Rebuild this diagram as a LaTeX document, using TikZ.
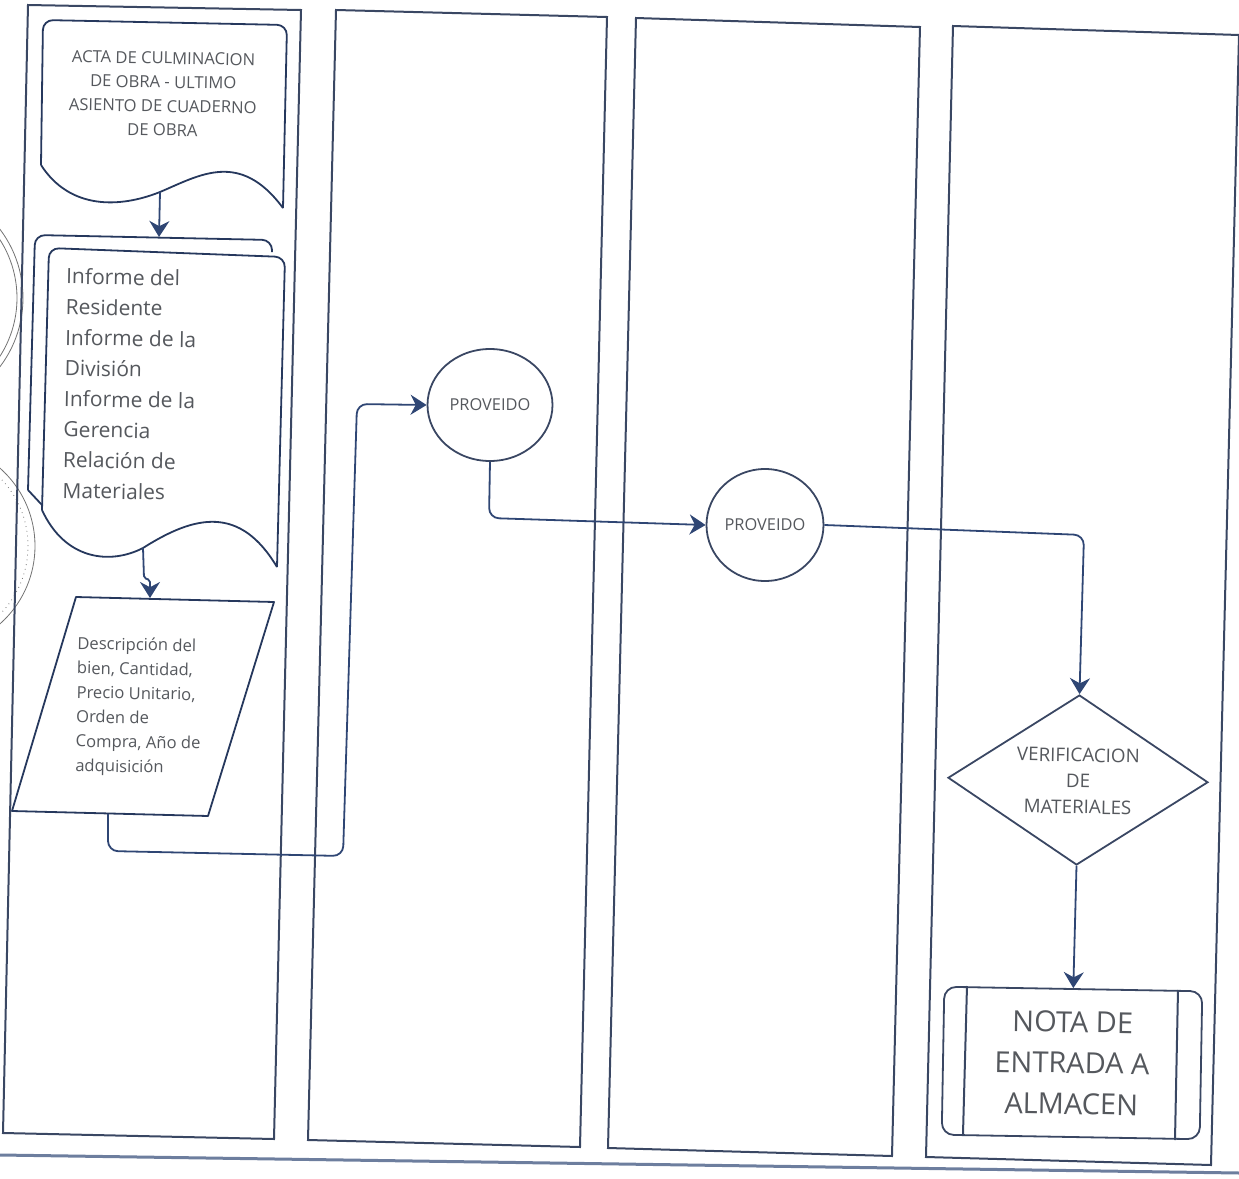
\documentclass[tikz,border=0pt]{standalone}
\usepackage{fontspec}
\setmainfont{Open Sans}
\usetikzlibrary{shapes.geometric,arrows.meta}
\definecolor{lanecolor}{HTML}{3A4763}
\definecolor{flowcolor}{HTML}{2F4674}
\definecolor{textcolor}{HTML}{55585D}
\begin{document}
\begin{tikzpicture}
[x=0.5pt,y=-0.5pt,
  lanedecorate/.style={draw=lanecolor,line width=1pt},%
  shapedecorate/.style={draw=flowcolor!80!black,line width=0.9pt,line join=round},%
  circledecorate/.style={shape=ellipse,draw=lanecolor,line width=0.9pt,inner sep=0pt},%
  arrowdecorate/.style={->,>={Stealth[length=8pt,width=10pt]},draw=flowcolor,line width=0.9pt,rounded corners=5pt},%
  labeldecorate/.style={text=textcolor,align=center,inner sep=0pt,rotate=-1},%
  stampdecorate/.style={draw=black!55,line width=0.4pt}]
\clip (0,0) rectangle (1239,1179);
% stamps cut by the page edge
\node (stampa) at (-91,298) [stampdecorate,shape=circle,minimum size=114pt] {};
\node (stampb) at (-91,298) [stampdecorate,shape=circle,minimum size=108pt] {};
\node (stampc) at (-69,546) [stampdecorate,shape=circle,minimum size=104pt] {};
\node (stampd) at (-69,546) [stampdecorate,shape=circle,minimum size=97pt,dotted] {};
% lanes
\draw[lanedecorate] (28,5) -- (301,10) -- (274,1139) -- (3,1133) -- cycle;
\draw[lanedecorate] (336,10) -- (607,17) -- (580,1147) -- (308,1140) -- cycle;
\draw[lanedecorate] (636,18) -- (920,27) -- (892,1156) -- (608,1148) -- cycle;
\draw[lanedecorate] (953,26) -- (1239,35) -- (1211,1165) -- (926,1157) -- cycle;
\draw[draw=flowcolor!70,line width=1.5pt] (0,1155) -- (1239,1173);
% first document
\draw[shapedecorate,rounded corners=5pt] (41,165) -- (43,20) -- (287,25) -- (283,208);
\draw[shapedecorate] (283,208) .. controls (240,150) and (200,175) .. (160,192)
  .. controls (120,208) and (70,210) .. (41,165);
\node (acta) at (163,94) [labeldecorate,font={\fontsize{8.3}{12}\selectfont}]
  {ACTA DE CULMINACION\\DE OBRA - ULTIMO\\ASIENTO DE CUADERNO\\DE OBRA};
\coordinate (actaout) at (160,192);
% multiple document
\draw[shapedecorate,rounded corners=5pt] (272,252) -- (272,240) -- (35,235) -- (28,490);
\draw[shapedecorate] (28,490) -- (42,505);
\draw[shapedecorate,rounded corners=5pt] (42,510) -- (49,248) -- (285,257) -- (277,567);
\draw[shapedecorate] (277,567) .. controls (240,505) and (195,515) .. (143,548)
  .. controls (110,565) and (65,560) .. (42,510);
\node (informe) at (64,383) [labeldecorate,anchor=west,align=left,font={\fontsize{10.5}{15.3}\selectfont}]
  {Informe del\\Residente\\Informe de la\\División\\Informe de la\\Gerencia\\Relación de\\Materiales};
\coordinate (informeout) at (143,548);
\coordinate (informetop) at (159,237);
\coordinate (jogb) at (144,578);
\coordinate (jogc) at (150,580);
% data
\draw[shapedecorate] (76,597) -- (274,602) -- (208,816) -- (12,811) -- cycle;
\node (datos) at (76,706) [labeldecorate,anchor=west,align=left,font={\fontsize{8.3}{12.2}\selectfont}]
  {Descripción del\\bien, Cantidad,\\Precio Unitario,\\Orden de\\Compra, Año de\\adquisición};
\coordinate (datostop) at (150,598);
\coordinate (datosout) at (108,814);
\coordinate (routea) at (108,851);
\coordinate (routeb) at (343,856);
\coordinate (routec) at (357,404);
% process steps
\node (proveidoa) at (490,405) [circledecorate,minimum width=62.5pt,minimum height=56pt,
  text=textcolor,font=\fontsize{8.2}{10}\selectfont] {PROVEIDO};
\node (proveidob) at (765,525) [circledecorate,minimum width=58.5pt,minimum height=56pt,
  text=textcolor,font=\fontsize{8.2}{10}\selectfont] {PROVEIDO};
\coordinate (routed) at (489,518);
\coordinate (routee) at (1084,535);
% decision
\node (verifica) at (1078,780) [shape=diamond,draw=lanecolor,line width=0.9pt,rotate=-1,
  minimum width=130pt,minimum height=85pt,aspect=1.53,inner sep=0pt] {};
\node (verificatxt) at (1078,781) [labeldecorate,font={\fontsize{9.4}{13}\selectfont}]
  {VERIFICACION\\DE\\MATERIALES};
% subprocess
\node (nota) at (1072,1063) [draw=lanecolor,line width=0.9pt,rounded corners=6pt,rotate=-1,
  minimum width=129pt,minimum height=74pt,inner sep=0pt,text=textcolor,align=center,
  font={\fontsize{14.5}{20.5}\selectfont}] {NOTA DE\\ENTRADA A\\ALMACEN};
\draw[lanedecorate] (967,986) -- (963,1134);
\draw[lanedecorate] (1178,990) -- (1175,1140);
% edges or lines
\draw[arrowdecorate] (actaout) -- (informetop);
\draw[arrowdecorate,rounded corners=1pt] (informeout) -- (jogb) -- (jogc) -- (datostop);
\draw[arrowdecorate] (datosout) -- (routea) -- (routeb) -- (routec) -- (proveidoa.west);
\draw[arrowdecorate] (proveidoa.south) -- (routed) -- (proveidob.west);
\draw[arrowdecorate] (proveidob.east) -- (routee) -- (verifica.north);
\draw[arrowdecorate] (verifica.south) -- (nota.north);
\end{tikzpicture}
\end{document}
